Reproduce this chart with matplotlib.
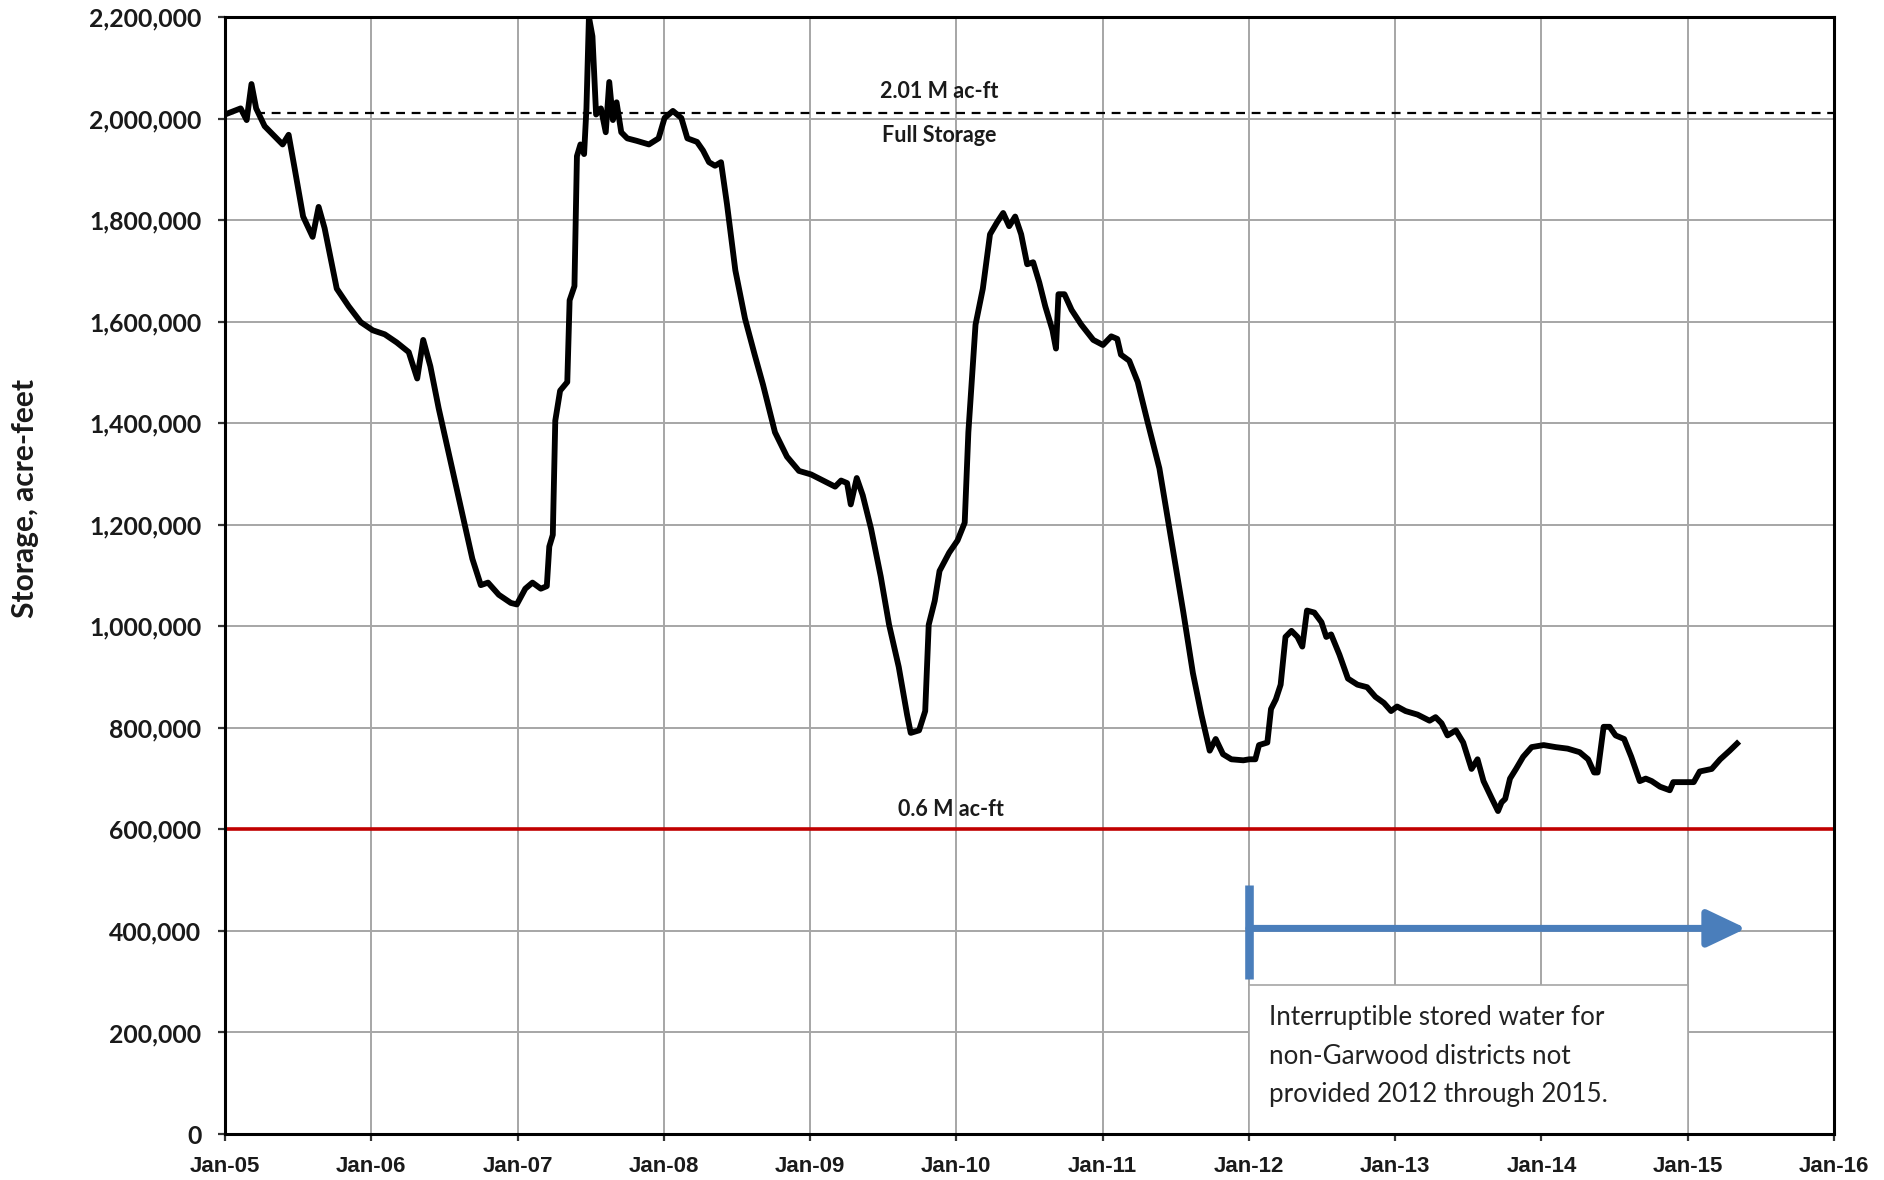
import matplotlib
matplotlib.use("Agg")
import matplotlib.pyplot as plt
from matplotlib.patches import Rectangle, FancyArrowPatch
import numpy as np

# ---- data (decimal year offset from Jan-2005, storage in thousand acre-feet) ----
year_offset = [
    0.000, 0.107, 0.148, 0.181, 0.213, 0.271, 0.353, 0.394, 0.435, 0.476,
    0.534, 0.599, 0.640, 0.681, 0.764, 0.846, 0.928, 1.010, 1.092, 1.174,
    1.256, 1.314, 1.355, 1.404, 1.461, 1.544, 1.626, 1.691, 1.749, 1.798,
    1.872, 1.954, 1.995, 2.053, 2.102, 2.159, 2.200, 2.217, 2.241, 2.258,
    2.291, 2.340, 2.356, 2.389, 2.406, 2.430, 2.455, 2.471, 2.488, 2.512,
    2.537, 2.570, 2.603, 2.627, 2.652, 2.677, 2.709, 2.750, 2.816, 2.898,
    2.964, 3.005, 3.062, 3.120, 3.161, 3.227, 3.268, 3.309, 3.350, 3.391,
    3.432, 3.489, 3.555, 3.621, 3.678, 3.760, 3.842, 3.924, 4.007, 4.089,
    4.171, 4.212, 4.253, 4.278, 4.319, 4.360, 4.417, 4.483, 4.540, 4.606,
    4.663, 4.688, 4.745, 4.787, 4.811, 4.852, 4.885, 4.951, 5.008, 5.057,
    5.082, 5.131, 5.181, 5.230, 5.279, 5.320, 5.361, 5.402, 5.443, 5.484,
    5.525, 5.567, 5.608, 5.657, 5.681, 5.698, 5.739, 5.788, 5.854, 5.936,
    6.002, 6.059, 6.100, 6.125, 6.182, 6.240, 6.305, 6.388, 6.470, 6.552,
    6.617, 6.675, 6.732, 6.773, 6.823, 6.880, 6.962, 7.003, 7.044, 7.069,
    7.126, 7.151, 7.184, 7.217, 7.250, 7.291, 7.332, 7.365, 7.397, 7.447,
    7.496, 7.529, 7.562, 7.619, 7.677, 7.742, 7.808, 7.865, 7.923, 7.972,
    8.013, 8.071, 8.153, 8.235, 8.276, 8.317, 8.358, 8.415, 8.465, 8.522,
    8.563, 8.604, 8.662, 8.703, 8.727, 8.752, 8.785, 8.826, 8.875, 8.933,
    9.015, 9.097, 9.179, 9.261, 9.319, 9.360, 9.384, 9.425, 9.466, 9.507,
    9.565, 9.614, 9.672, 9.713, 9.754, 9.811, 9.877, 9.901, 9.959, 10.041,
    10.082, 10.164, 10.222, 10.287, 10.337,
]
storage_kaf = [
    2008, 2020, 1997, 2068, 2020, 1985, 1961, 1949, 1968, 1902,
    1807, 1767, 1826, 1784, 1665, 1630, 1599, 1583, 1575, 1559,
    1540, 1488, 1564, 1512, 1429, 1322, 1216, 1133, 1081, 1086,
    1062, 1046, 1043, 1074, 1086, 1074, 1079, 1157, 1180, 1405,
    1464, 1481, 1642, 1670, 1926, 1949, 1930, 2020, 2200, 2162,
    2008, 2020, 1973, 2072, 1997, 2032, 1973, 1961, 1956, 1949,
    1961, 2001, 2015, 2001, 1961, 1954, 1937, 1914, 1907, 1914,
    1831, 1701, 1606, 1535, 1476, 1382, 1334, 1306, 1299, 1287,
    1275, 1287, 1282, 1240, 1292, 1258, 1192, 1098, 1003, 920,
    826, 790, 795, 833, 1003, 1050, 1109, 1145, 1169, 1204,
    1382, 1594, 1665, 1772, 1796, 1814, 1788, 1807, 1772, 1713,
    1717, 1677, 1630, 1583, 1547, 1654, 1654, 1623, 1594, 1564,
    1554, 1571, 1566, 1535, 1523, 1481, 1405, 1311, 1169, 1027,
    908, 826, 755, 778, 748, 738, 736, 738, 738, 766,
    771, 837, 856, 885, 979, 991, 979, 960, 1031, 1027,
    1008, 979, 984, 944, 897, 885, 880, 861, 849, 833,
    842, 833, 826, 814, 821, 809, 785, 795, 771, 719,
    738, 695, 660, 636, 653, 660, 700, 719, 743, 762,
    766, 762, 759, 752, 738, 712, 712, 802, 802, 785,
    778, 743, 695, 700, 695, 684, 677, 693, 693, 693,
    714, 719, 738, 755, 769,
]
start_year = 2005
x_tick_years = list(range(2005, 2017))
x_tick_labels = ["Jan-05", "Jan-06", "Jan-07", "Jan-08", "Jan-09", "Jan-10",
                 "Jan-11", "Jan-12", "Jan-13", "Jan-14", "Jan-15", "Jan-16"]
y_ticks = [0, 200000, 400000, 600000, 800000, 1000000, 1200000, 1400000,
           1600000, 1800000, 2000000, 2200000]
full_storage = 2010000
min_storage = 600000
arrow_start_year = 2012.0
arrow_end_year = 2015.40
arrow_level = 405000
bar_low, bar_high = 305000, 490000
box_years = (2012.0, 2015.0)
box_top = 293000

x = np.array(year_offset) + start_year
y = np.array(storage_kaf) * 1000.0

fig = plt.figure(figsize=(18.84, 11.80), dpi=100)
ax = fig.add_axes([225/1884, 1 - 1134/1180, (1834-225)/1884, (1134-17)/1180])

label_font = ["Lato", "DejaVu Sans"]
narrow_font = ["Liberation Sans Narrow", "Liberation Sans", "DejaVu Sans"]

grid_color = "#a6a6a6"
for yr in x_tick_years:
    ax.axvline(yr, color=grid_color, lw=1.4, zorder=1)
for yt in y_ticks:
    ax.axhline(yt, color=grid_color, lw=1.4, zorder=1)

ax.plot(x, y, color="black", lw=4.2, zorder=4, solid_joinstyle="round")

ax.axhline(full_storage, color="black", lw=1.6, ls=(0, (4, 3)), zorder=3)
ax.axhline(min_storage, color="#c00000", lw=2.6, zorder=3)

ax.text(2009.88, 2053000, "2.01 M ac-ft", ha="center", va="center",
        fontsize=15.5, family=label_font, fontweight="bold", color="#1a1a1a", zorder=5)
ax.text(2009.88, 1966000, "Full Storage", ha="center", va="center",
        fontsize=15.5, family=label_font, fontweight="bold", color="#1a1a1a", zorder=5)
ax.text(2009.96, 640000, "0.6 M ac-ft", ha="center", va="center",
        fontsize=15.5, family=label_font, fontweight="bold", color="#1a1a1a", zorder=5)

# text box
ax.add_patch(Rectangle((box_years[0], 0), box_years[1] - box_years[0], box_top,
                       facecolor="white", edgecolor="#a6a6a6", lw=1.2, zorder=2.5))
ax.text(2012.14, 254000,
        "Interruptible stored water for\nnon-Garwood districts not\nprovided 2012 through 2015.",
        ha="left", va="top", fontsize=18.7, family=label_font, color="#222222",
        linespacing=1.68, zorder=5)

# blue arrow
blue = "#4a7ebb"
ax.plot([arrow_start_year, arrow_start_year], [bar_low, bar_high], color=blue,
        lw=6.2, solid_capstyle="butt", zorder=5)
arr = FancyArrowPatch((arrow_start_year, arrow_level), (arrow_end_year, arrow_level),
                      arrowstyle="-|>,head_length=2.0,head_width=0.95",
                      mutation_scale=12, color=blue, lw=5, zorder=5,
                      shrinkA=0, shrinkB=0)
ax.add_patch(arr)

ax.set_xlim(2005, 2016)
ax.set_ylim(0, 2200000)
ax.set_xticks(x_tick_years)
ax.set_xticklabels(x_tick_labels)
ax.set_yticks(y_ticks)
ax.set_yticklabels([f"{v:,}" for v in y_ticks])

for sp in ax.spines.values():
    sp.set_linewidth(2.2)
    sp.set_color("black")
    sp.set_zorder(6)

ax.tick_params(axis="both", direction="out", length=5, width=1.6, color="#333333")
ax.tick_params(axis="y", pad=12)
ax.tick_params(axis="x", pad=11)
for lab in ax.get_yticklabels():
    lab.set_family(label_font)
    lab.set_fontweight("bold")
    lab.set_fontsize(17.8)
    lab.set_color("#1a1a1a")
for lab in ax.get_xticklabels():
    lab.set_family(narrow_font)
    lab.set_fontweight("bold")
    lab.set_fontsize(16)
    lab.set_color("#1a1a1a")

fig.text(25/1884, 1 - 499/1180, "Storage, acre-feet", rotation=90, ha="center",
         va="center", fontsize=21.5, family=label_font, fontweight="bold", color="#1a1a1a")

fig.savefig("out.png", dpi=100, facecolor="white")
